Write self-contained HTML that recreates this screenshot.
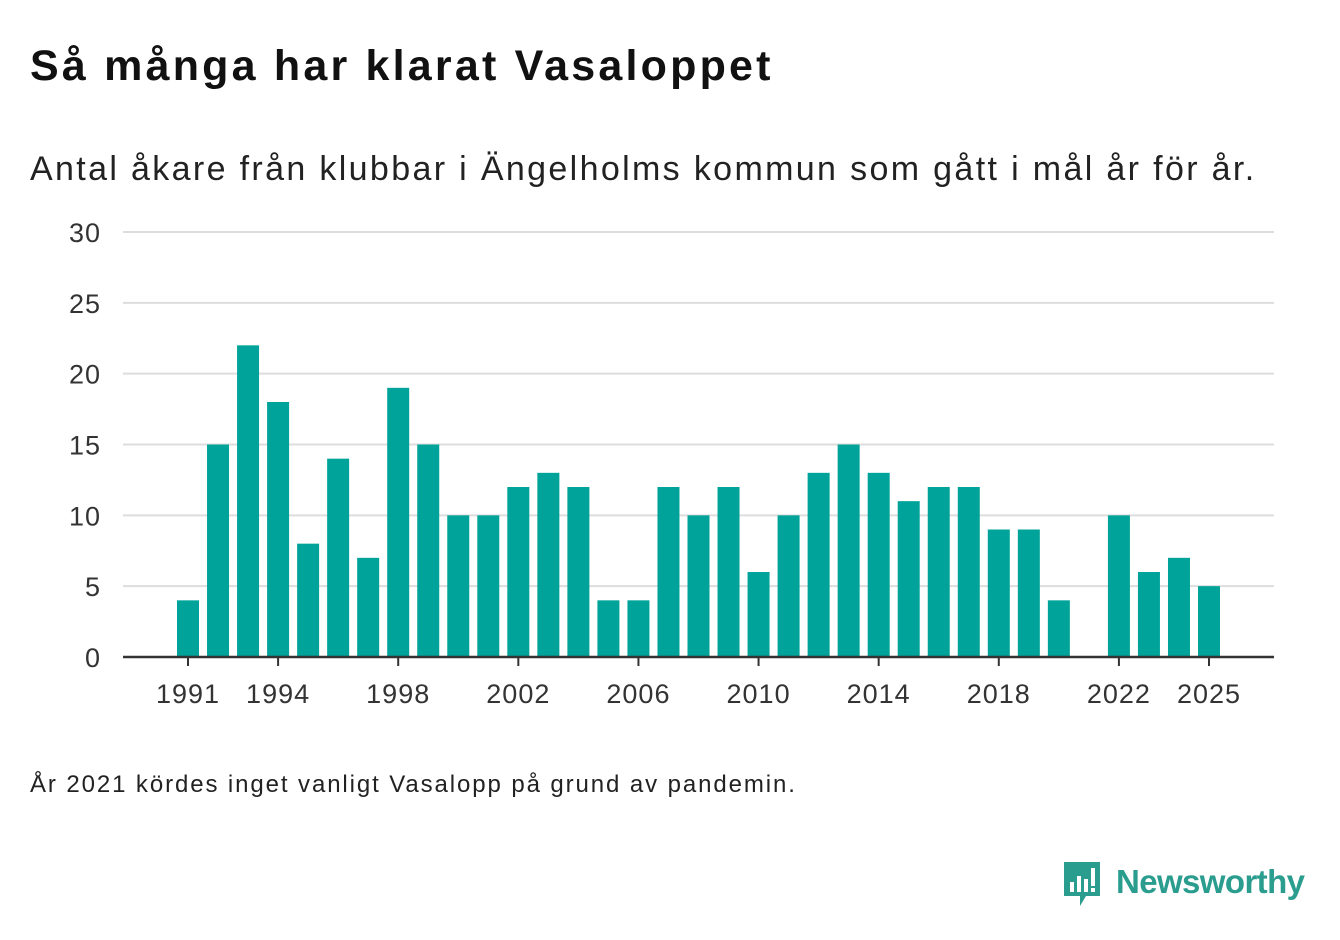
<!DOCTYPE html>
<html><head><meta charset="utf-8"><style>
body{margin:0;width:1340px;height:940px;background:#fff;font-family:"Liberation Sans",sans-serif;overflow:hidden;position:relative}
.t{position:absolute;left:30px;top:42px;font-size:43px;font-weight:bold;color:#111;margin:0;letter-spacing:3.2px}
.s{position:absolute;left:30px;top:150px;font-size:34px;color:#222;letter-spacing:2.35px}
.f{position:absolute;left:30px;top:771px;font-size:24px;color:#222;letter-spacing:1.9px}
.logo{position:absolute;left:1062px;top:860px}
</style></head><body>
<h1 class="t">Så många har klarat Vasaloppet</h1>
<div class="s">Antal åkare från klubbar i Ängelholms kommun som gått i mål år för år.</div>
<svg id="c" width="1340" height="940" style="position:absolute;left:0;top:0"></svg>
<div class="f">År 2021 kördes inget vanligt Vasalopp på grund av pandemin.</div>
<div class="logo">
<svg width="250" height="50">
<path d="M2 2h36v34h-14l-6 10v-10h-16z" fill="#2a9d8f"/>
<rect x="8" y="22" width="4" height="10" fill="#fff"/><rect x="15" y="16" width="4" height="16" fill="#fff"/><rect x="22" y="19" width="4" height="13" fill="#fff"/><rect x="29" y="8" width="4" height="18" fill="#fff"/><rect x="29" y="28" width="4" height="4" fill="#fff"/>
<text x="54" y="33" font-size="33" font-weight="bold" fill="#2a9d8f" font-family="Liberation Sans, sans-serif" textLength="189">Newsworthy</text>
</svg></div>
<script>
const years=[1991,1992,1993,1994,1995,1996,1997,1998,1999,2000,2001,2002,2003,2004,2005,2006,2007,2008,2009,2010,2011,2012,2013,2014,2015,2016,2017,2018,2019,2020,2021,2022,2023,2024,2025];
const values=[4,15,22,18,8,14,7,19,15,10,10,12,13,12,4,4,12,10,12,6,10,13,15,13,11,12,12,9,9,4,null,10,6,7,5];
const yTicks=[0,5,10,15,20,25,30];
const xLabels=[1991,1994,1998,2002,2006,2010,2014,2018,2022,2025];
const svg=document.getElementById('c');const NS='http://www.w3.org/2000/svg';
const x=y=>188+(y-1991)*(1209-188)/34;
const yy=v=>657-v*(425/30);
function mk(t,a){const e=document.createElementNS(NS,t);for(const k in a)e.setAttribute(k,a[k]);svg.appendChild(e);return e;}
yTicks.forEach(v=>{
 if(v>0){const g=mk('line',{x1:123,x2:1274,y1:yy(v),y2:yy(v),stroke:'#ddd','stroke-width':2});
 
 }
 const t=mk('text',{x:101,y:yy(v)+10,'text-anchor':'end','font-size':27,fill:'#333','letter-spacing':1});t.textContent=v;
 
 
});
years.forEach((yr,i)=>{const v=values[i];if(v==null)return;
 const r=mk('rect',{x:x(yr)-11,y:yy(v),width:22,height:yy(0)-yy(v),fill:'#00a399'});
 
 
});
const ax=mk('line',{x1:123,x2:1274,y1:657,y2:657,stroke:'#333','stroke-width':2.5});


xLabels.forEach(yr=>{
 const tk=mk('line',{x1:x(yr),x2:x(yr),y1:657,y2:666,stroke:'#333','stroke-width':2});
 
 
 const t=mk('text',{x:x(yr),y:703,'text-anchor':'middle','font-size':27,fill:'#333','letter-spacing':1});t.textContent=yr;
 
 
});
</script>
</body></html>
